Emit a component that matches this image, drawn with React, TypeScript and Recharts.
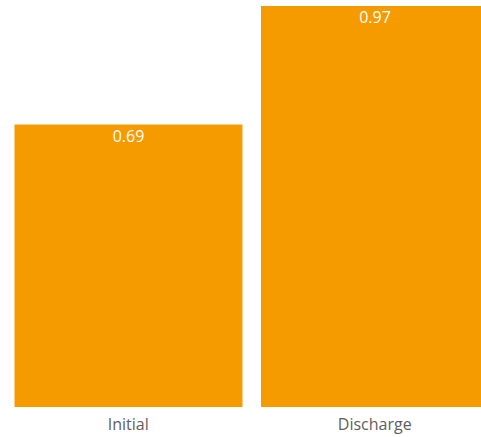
import { BarChart, Bar, XAxis, YAxis, LabelList } from 'recharts';

const categories = ['Initial', 'Discharge'];
const values = [0.686, 0.974];
const labels = ['0.69', '0.97'];

const data = categories.map((name, i) => ({ name, value: values[i], label: labels[i] }));

const font = '"Open Sans", "Noto Sans", sans-serif';

export default function App() {
    return (
        <div style={{ position: 'absolute', left: 0, top: 0, width: 481, height: 437, overflow: 'hidden', background: '#fff' }}>
            <BarChart
                width={498}
                height={437}
                data={data}
                margin={{ top: 6, right: 0, left: 5, bottom: 0 }}
                barCategoryGap={9.5}
            >
                <XAxis
                    dataKey="name"
                    axisLine={false}
                    tickLine={false}
                    height={30}
                    tickMargin={6}
                    tick={{ fill: '#605E5C', fontSize: 16, fontFamily: font }}
                />
                <YAxis hide domain={[0, 'dataMax']} />
                <Bar dataKey="value" fill="#F59B00" isAnimationActive={false}>
                    <LabelList
                        dataKey="label"
                        position="insideTop"
                        offset={6}
                        fill="#FFFFFF"
                        fontSize={16}
                        fontFamily={font}
                    />
                </Bar>
            </BarChart>
        </div>
    );
}
